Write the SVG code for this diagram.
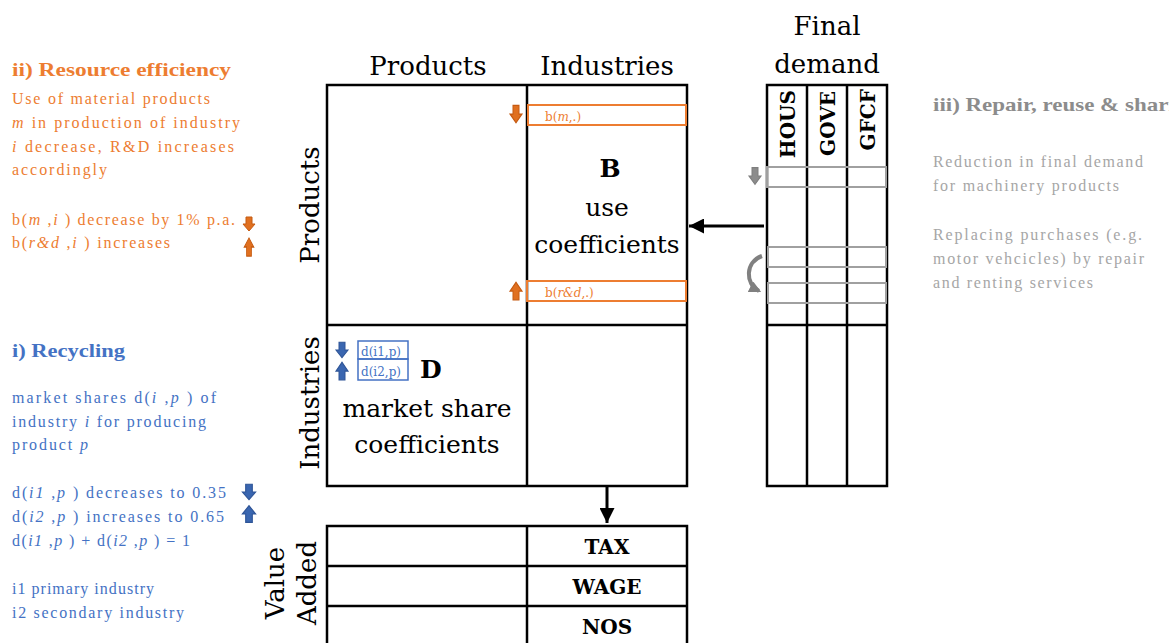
<svg xmlns="http://www.w3.org/2000/svg" width="1169" height="643" viewBox="0 0 1169 643">
<defs>
<style>
.grid{fill:none;stroke:#000;stroke-width:2.5}
.ln{stroke:#000;stroke-width:2.5}
.big{font-family:"DejaVu Serif",serif;font-size:25px;fill:#000}
.bold{font-family:"DejaVu Serif",serif;font-weight:bold;fill:#000}
.or{font-family:"Liberation Serif",serif;font-size:16px;fill:#ED7D31}
.bl{font-family:"Liberation Serif",serif;font-size:16px;fill:#4472C4}
.gr{font-family:"Liberation Serif",serif;font-size:16px;fill:#A6A6A6}
.orbox{fill:none;stroke:#ED7D31;stroke-width:2}
.blbox{fill:none;stroke:#4472C4;stroke-width:1.5}
.grbox{fill:none;stroke:#A0A0A0;stroke-width:2}
.oarr{fill:#E07020;stroke:#C55A11;stroke-width:1}
.barr{fill:#3A66B0;stroke:#2F5597;stroke-width:1}
.garr{fill:#8C8C8C;stroke:#7F7F7F;stroke-width:1}
</style>
<marker id="ah" viewBox="0 0 10 10" refX="10" refY="5" markerWidth="5" markerHeight="5" orient="auto" markerUnits="strokeWidth">
<path d="M0,0 L10,5 L0,10 z" fill="#000"/>
</marker>
<marker id="gah" viewBox="0 0 10 10" refX="8" refY="5" markerWidth="3" markerHeight="3" orient="auto" markerUnits="strokeWidth">
<path d="M0,0 L10,5 L0,10 z" fill="#808080"/>
</marker>
<path id="dn" d="M-3,-7 L3,-7 L3,0 L6,0 L0,7 L-6,0 L-3,0 z"/>
</defs>
<rect width="1169" height="643" fill="#fff"/>

<g id="resource-efficiency">
<text class="or" x="12" y="76" style="font-size:19px;font-weight:bold" textLength="219" lengthAdjust="spacingAndGlyphs">ii) Resource efficiency</text>
<text class="or" x="12" y="104" textLength="198">Use of material products</text>
<text class="or" x="12" y="128" textLength="228"><tspan font-style="italic">m</tspan>    in production of industry</text>
<text class="or" x="12" y="152" textLength="222"><tspan font-style="italic">i</tspan>   decrease, R&amp;D increases</text>
<text class="or" x="12" y="175" textLength="95">accordingly</text>
<text class="or" x="12" y="225" textLength="223">b(<tspan font-style="italic">m</tspan>    ,<tspan font-style="italic">i</tspan>   ) decrease by 1% p.a.</text>
<text class="or" x="12" y="248" textLength="158">b(<tspan font-style="italic">r&amp;d</tspan>    ,<tspan font-style="italic">i</tspan>   ) increases</text>
<use href="#dn" class="oarr" transform="translate(249,224)"/>
<use href="#dn" class="oarr" transform="translate(249,247) rotate(180) scale(0.8,1.3)"/>
</g>

<g id="recycling">
<text class="bl" x="12" y="357" style="font-size:19px;font-weight:bold" textLength="113" lengthAdjust="spacingAndGlyphs">i) Recycling</text>
<text class="bl" x="12" y="403" textLength="204">market shares d(<tspan font-style="italic">i</tspan>   ,<tspan font-style="italic">p</tspan>   ) of</text>
<text class="bl" x="12" y="427" textLength="194">industry <tspan font-style="italic">i</tspan>   for producing</text>
<text class="bl" x="12" y="450" textLength="76">product <tspan font-style="italic">p</tspan></text>
<text class="bl" x="12" y="498" textLength="214">d(<tspan font-style="italic">i1</tspan>   ,<tspan font-style="italic">p</tspan>   ) decreases to 0.35</text>
<text class="bl" x="12" y="522" textLength="212">d(<tspan font-style="italic">i2</tspan>   ,<tspan font-style="italic">p</tspan>   ) increases to 0.65</text>
<text class="bl" x="12" y="546" textLength="178">d(<tspan font-style="italic">i1</tspan>   ,<tspan font-style="italic">p</tspan>   ) + d(<tspan font-style="italic">i2</tspan>   ,<tspan font-style="italic">p</tspan>   ) = 1</text>
<text class="bl" x="12" y="594" textLength="142">i1 primary industry</text>
<text class="bl" x="12" y="618" textLength="172">i2 secondary industry</text>
<use href="#dn" class="barr" transform="translate(249,492) scale(1.1,1.1)"/>
<use href="#dn" class="barr" transform="translate(249,514) rotate(180) scale(1.1,1.2)"/>
</g>

<g id="repair-reuse">
<text class="gr" x="933" y="111" style="font-size:19px;font-weight:bold;fill:#8C8C8C" textLength="266" lengthAdjust="spacingAndGlyphs">iii) Repair, reuse &amp; sharing</text>
<text class="gr" x="933" y="167" textLength="210">Reduction in final demand</text>
<text class="gr" x="933" y="191" textLength="186">for machinery products</text>
<text class="gr" x="933" y="240" textLength="209">Replacing purchases (e.g.</text>
<text class="gr" x="933" y="264" textLength="211">motor vehcicles) by repair</text>
<text class="gr" x="933" y="288" textLength="160">and renting services</text>
</g>

<g id="headers">
<text class="big" x="428" y="75" text-anchor="middle" style="font-size:26px">Products</text>
<text class="big" x="607" y="75" text-anchor="middle" style="font-size:26px">Industries</text>
<text class="big" x="827" y="35" text-anchor="middle" style="font-size:26px">Final</text>
<text class="big" x="827" y="73" text-anchor="middle" style="font-size:26px">demand</text>
<text class="big" transform="translate(319,205) rotate(-90)" text-anchor="middle" style="font-size:26px">Products</text>
<text class="big" transform="translate(319,403) rotate(-90)" text-anchor="middle" style="font-size:26px">Industries</text>
<text class="big" transform="translate(284,583) rotate(-90)" text-anchor="middle" style="font-size:26px">Value</text>
<text class="big" transform="translate(316,583) rotate(-90)" text-anchor="middle" style="font-size:26px">Added</text>
</g>

<g id="matrix">
<rect class="grid" x="327" y="85" width="360" height="401"/>
<line class="ln" x1="527" y1="85" x2="527" y2="486"/>
<line class="ln" x1="327" y1="325" x2="687" y2="325"/>
</g>

<g id="B-block">
<rect class="orbox" x="528" y="105" width="158" height="20"/>
<text x="545" y="121" style="font-family:'DejaVu Serif',serif;font-size:12px;fill:#ED7D31">b(<tspan font-style="italic">m</tspan>,.)</text>
<rect class="orbox" x="527" y="281" width="159" height="20"/>
<text x="545" y="297" style="font-family:'DejaVu Serif',serif;font-size:12px;fill:#ED7D31">b(<tspan font-style="italic">r&amp;d</tspan>,.)</text>
<use href="#dn" class="oarr" transform="translate(516,114) scale(1,1.25)"/>
<use href="#dn" class="oarr" transform="translate(516,291) rotate(180) scale(1,1.25)"/>
<text class="bold" x="610" y="177" text-anchor="middle" style="font-size:25px">B</text>
<text class="big" x="607" y="216" text-anchor="middle">use</text>
<text class="big" x="607" y="253" text-anchor="middle">coefficients</text>
</g>

<g id="D-block">
<rect class="blbox" x="358" y="341" width="50" height="18"/>
<rect class="blbox" x="358" y="359" width="50" height="21"/>
<text x="361" y="356" style="font-family:'DejaVu Serif',serif;font-size:12px;fill:#4472C4">d(i1,p)</text>
<text x="361" y="376" style="font-family:'DejaVu Serif',serif;font-size:12px;fill:#4472C4">d(i2,p)</text>
<use href="#dn" class="barr" transform="translate(342,350) scale(1,1.1)"/>
<use href="#dn" class="barr" transform="translate(342,371) rotate(180) scale(1,1.25)"/>
<text class="bold" x="420" y="378" style="font-size:25px">D</text>
<text class="big" x="427" y="417" text-anchor="middle">market  share</text>
<text class="big" x="427" y="453" text-anchor="middle">coefficients</text>
</g>

<g id="final-demand">
<rect class="grid" x="767" y="85" width="120" height="401"/>
<line class="ln" x1="807" y1="85" x2="807" y2="486"/>
<line class="ln" x1="847" y1="85" x2="847" y2="486"/>
<line class="ln" x1="767" y1="325" x2="887" y2="325"/>
<text class="bold" transform="translate(795,90) rotate(-90)" text-anchor="end" style="font-size:20px">HOUS</text>
<text class="bold" transform="translate(835,91) rotate(-90)" text-anchor="end" style="font-size:20px">GOVE</text>
<text class="bold" transform="translate(875,89) rotate(-90)" text-anchor="end" style="font-size:20px">GFCF</text>
<rect class="grbox" x="767" y="167" width="119" height="20"/>
<rect class="grbox" x="768" y="247" width="118" height="20"/>
<rect class="grbox" x="768" y="283" width="118" height="20"/>
<use href="#dn" class="garr" transform="translate(755,176) scale(1,1.2)"/>
<path d="M762,256 C745,262 745,284 759,291" fill="none" stroke="#808080" stroke-width="4" marker-end="url(#gah)"/>
</g>

<g id="value-added">
<rect class="grid" x="327" y="526" width="360" height="122"/>
<line class="ln" x1="527" y1="526" x2="527" y2="648"/>
<line class="ln" x1="327" y1="566" x2="687" y2="566"/>
<line class="ln" x1="327" y1="606" x2="687" y2="606"/>
<text class="bold" x="607" y="554" text-anchor="middle" style="font-size:20px">TAX</text>
<text class="bold" x="607" y="594" text-anchor="middle" style="font-size:20px">WAGE</text>
<text class="bold" x="607" y="634" text-anchor="middle" style="font-size:20px">NOS</text>
</g>

<g id="connectors">
<line x1="764" y1="226" x2="689" y2="226" stroke="#000" stroke-width="3" marker-end="url(#ah)"/>
<line x1="607" y1="487" x2="607" y2="523" stroke="#000" stroke-width="3" marker-end="url(#ah)"/>
</g>
</svg>
